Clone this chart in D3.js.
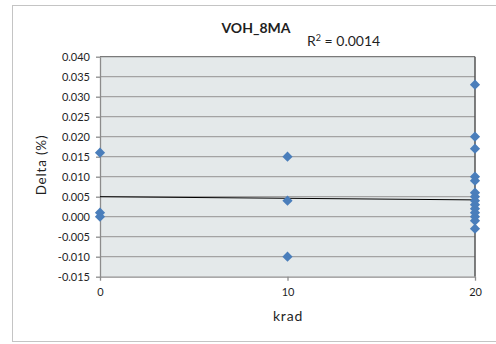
<!DOCTYPE html>
<html>
<head>
<meta charset="utf-8">
<script src="https://cdn.jsdelivr.net/npm/d3@7"></script>
<style>
  html, body { margin: 0; padding: 0; background: #fff; }
  svg { display: block; }
  text { font-family: Lato, "Open Sans", sans-serif; fill: #1f1f1f; }
</style>
</head>
<body>
<svg id="chart" width="496" height="344"></svg>
<script>
// Measurements: dose (krad) and delta (%) per sample
const doseX = [0, 0, 0,
               10, 10, 10,
               20, 20, 20, 20, 20, 20, 20, 20, 20, 20, 20, 20, 20, 20];
const deltaY = [0.016, 0.001, 0.000,
                0.015, 0.004, -0.010,
                0.033, 0.020, 0.017, 0.010, 0.009, 0.006, 0.005,
                0.004, 0.003, 0.002, 0.001, 0.000, -0.001, -0.003];

// Linear trend line end points
const trendX = [0, 20];
const trendY = [0.0050, 0.0042];

const xTicks = [0, 10, 20];
const yTicks = [0.040, 0.035, 0.030, 0.025, 0.020, 0.015, 0.010, 0.005,
                0.000, -0.005, -0.010, -0.015];

const titleText = "VOH_8MA";
const r2Text = "0.0014";

const svg = d3.select("#chart");

// outer chart frame
svg.append("rect")
  .attr("x", 12.5).attr("y", 5.5)
  .attr("width", 500).attr("height", 336)
  .attr("fill", "#fff").attr("stroke", "#c4c4c4").attr("stroke-width", 1);

const plot = { left: 100, right: 475, top: 56.7, bottom: 276.7 };

const x = d3.scaleLinear().domain([0, 20]).range([plot.left, plot.right]);
const y = d3.scaleLinear().domain([-0.015, 0.040]).range([plot.bottom, plot.top]);

// plot background
svg.append("rect")
  .attr("x", plot.left).attr("y", plot.top)
  .attr("width", plot.right - plot.left).attr("height", plot.bottom - plot.top)
  .attr("fill", "#e4e9ea");

// horizontal gridlines
svg.append("g")
  .selectAll("line")
  .data(yTicks.filter(t => t > -0.015 && t < 0.040))
  .join("line")
  .attr("x1", plot.left).attr("x2", plot.right)
  .attr("y1", d => y(d)).attr("y2", d => y(d))
  .attr("stroke", "#a3a3a3").attr("stroke-width", 1.3);

// top and right frame of the plot area
svg.append("line")
  .attr("x1", plot.left).attr("x2", plot.right)
  .attr("y1", plot.top).attr("y2", plot.top)
  .attr("stroke", "#7a7a7a").attr("stroke-width", 1.3);
svg.append("line")
  .attr("x1", plot.right).attr("x2", plot.right)
  .attr("y1", plot.top).attr("y2", plot.bottom)
  .attr("stroke", "#555").attr("stroke-width", 1.5);

// y axis
const yAxis = svg.append("g")
  .attr("transform", `translate(${plot.left},0)`)
  .call(d3.axisLeft(y).tickValues(yTicks).tickFormat(d3.format(".3f"))
    .tickSizeInner(4).tickSizeOuter(0).tickPadding(6));
yAxis.select(".domain").attr("stroke", "#8c8c8c").attr("stroke-width", 1.3);
yAxis.selectAll(".tick line").attr("stroke", "#8c8c8c").attr("stroke-width", 1.3);
yAxis.selectAll(".tick text")
  .text(d => d3.format(".3f")(d).replace("−", "-"))
  .attr("font-size", 11).attr("font-family", "Lato, sans-serif").attr("fill", "#1f1f1f");

// x axis along the bottom of the plot
const xAxis = svg.append("g")
  .attr("transform", `translate(0,${plot.bottom})`)
  .call(d3.axisBottom(x).tickValues(xTicks).tickFormat(d3.format("d"))
    .tickSizeInner(4).tickSizeOuter(0).tickPadding(8));
xAxis.select(".domain").attr("stroke", "#8c8c8c").attr("stroke-width", 1.3);
xAxis.selectAll(".tick line").attr("stroke", "#8c8c8c").attr("stroke-width", 1.3);
xAxis.selectAll(".tick text")
  .attr("font-size", 11).attr("font-family", "Lato, sans-serif").attr("fill", "#1f1f1f");

// trend line
svg.append("line")
  .attr("x1", x(trendX[0])).attr("y1", y(trendY[0]))
  .attr("x2", x(trendX[1])).attr("y2", y(trendY[1]))
  .attr("stroke", "#000").attr("stroke-width", 1);

// data markers (diamonds)
const diamond = d3.symbol().type(d3.symbolSquare).size(52);
svg.append("g")
  .selectAll("path")
  .data(doseX.map((d, i) => [d, deltaY[i]]))
  .join("path")
  .attr("d", diamond)
  .attr("transform", d => `translate(${x(d[0])},${y(d[1])}) rotate(45)`)
  .attr("fill", "#4a7ebb");

// title
svg.append("text")
  .attr("x", 256).attr("y", 33)
  .attr("text-anchor", "middle")
  .attr("font-size", 14).attr("font-weight", "bold")
  .text(titleText);

// R squared label
const r2 = svg.append("text")
  .attr("x", 307).attr("y", 46)
  .attr("font-size", 14);
r2.append("tspan").text("R");
r2.append("tspan").attr("font-size", 9).attr("dy", -5).text("2");
r2.append("tspan").attr("dy", 5).text(" = " + r2Text);

// axis titles
svg.append("text")
  .attr("x", 288).attr("y", 321)
  .attr("text-anchor", "middle")
  .attr("font-size", 14).attr("letter-spacing", 0.8)
  .text("krad");

svg.append("text")
  .attr("transform", "translate(46,165) rotate(-90)")
  .attr("text-anchor", "middle")
  .attr("font-size", 13.5).attr("letter-spacing", 0.8)
  .text("Delta (%)");
</script>
</body>
</html>
